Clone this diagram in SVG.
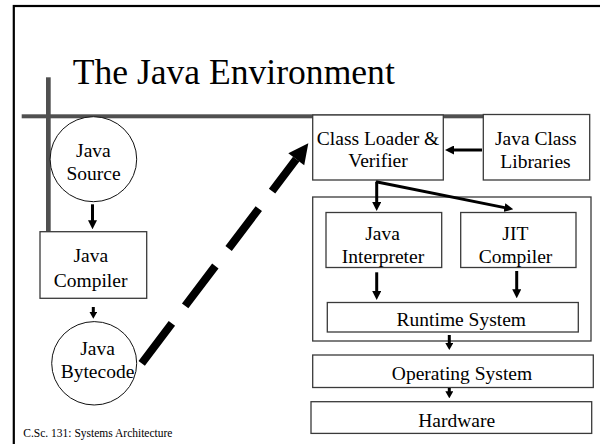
<svg xmlns="http://www.w3.org/2000/svg" width="600" height="444" viewBox="0 0 600 444">
<style>
text{font-family:"Liberation Serif","Times New Roman",serif;fill:#000}
.n{font-size:19.5px;text-anchor:middle}
.box{fill:#fff;stroke:#3a3a3a;stroke-width:1.3}
.circ{fill:#fff;stroke:#111;stroke-width:1}
.bar{fill:#505050}
.ar{stroke:#000;stroke-width:3;fill:none;marker-end:url(#ah)}
.ars{stroke:#000;stroke-width:3;fill:none;marker-end:url(#ahs)}
</style>
<defs>
<marker id="ah" viewBox="0 0 10 10" markerWidth="9" markerHeight="9" markerUnits="userSpaceOnUse" refX="3" refY="5" orient="auto"><path d="M0,0L10,5L0,10z" fill="#000"/></marker>
<marker id="ahs" viewBox="0 0 10 10" markerWidth="7" markerHeight="8" markerUnits="userSpaceOnUse" refX="3" refY="5" orient="auto" preserveAspectRatio="none"><path d="M0,0L10,5L0,10z" fill="#000"/></marker>
</defs>
<rect x="13.8" y="6" width="620" height="460" fill="#fff" stroke="#000" stroke-width="2.2"/>
<text x="72.7" y="84" font-size="35.6">The Java Environment</text>
<rect class="bar" x="21.7" y="114.3" width="461.5" height="4"/>
<rect class="bar" x="46" y="77.3" width="4.7" height="154.4"/>
<g id="java-source"><ellipse class="circ" cx="93.4" cy="159.2" rx="43.3" ry="42.5"/><text class="n" x="93.4" y="156.7">Java</text><text class="n" x="93.6" y="180">Source</text></g>
<g id="java-compiler"><rect class="box" x="40" y="231.7" width="106.7" height="66.6"/><text class="n" x="90.8" y="261.7">Java</text><text class="n" x="90.6" y="286.7">Compiler</text></g>
<g id="java-bytecode"><ellipse class="circ" cx="94.2" cy="363.3" rx="42.5" ry="41.7"/><text class="n" x="97.5" y="355">Java</text><text class="n" x="97.5" y="378">Bytecode</text></g>
<g id="class-loader"><rect class="box" x="312.7" y="115" width="130.6" height="65"/><text class="n" x="378" y="145">Class Loader &amp;</text><text class="n" x="378" y="167">Verifier</text></g>
<g id="class-libraries"><rect class="box" x="483.3" y="114.5" width="106.4" height="65.5"/><text class="n" x="535.8" y="145">Java Class</text><text class="n" x="535.5" y="167.5">Libraries</text></g>
<g id="jvm"><rect class="box" x="312.7" y="197" width="278.3" height="144"/></g>
<g id="java-interpreter"><rect class="box" x="326" y="212.5" width="115.7" height="55"/><text class="n" x="382.5" y="239.5">Java</text><text class="n" x="383" y="262.8">Interpreter</text></g>
<g id="jit-compiler"><rect class="box" x="460.7" y="212.5" width="115.3" height="55"/><text class="n" x="515.3" y="239.5">JIT</text><text class="n" x="515.5" y="262.8">Compiler</text></g>
<g id="runtime-system"><rect class="box" x="327.3" y="302.5" width="251" height="29.5"/><text class="n" x="461.3" y="326">Runtime System</text></g>
<g id="operating-system"><rect class="box" x="312.7" y="355" width="280.6" height="32.5"/><text class="n" x="462" y="380">Operating System</text></g>
<g id="hardware"><rect class="box" x="311" y="401.7" width="280.7" height="31.7"/><text class="n" x="456.7" y="426.7">Hardware</text></g>
<g id="connectors">
<line class="ar" x1="92.5" y1="204.3" x2="92.5" y2="223"/>
<line class="ars" x1="93.3" y1="307" x2="93.3" y2="313.8"/>
<line class="ar" x1="482" y1="150" x2="451.3" y2="150"/>
<line class="ar" x1="376.7" y1="181.7" x2="376.7" y2="204.7"/>
<line class="ar" x1="376" y1="181.7" x2="507.1" y2="208.1"/>
<line class="ar" x1="376.7" y1="272.3" x2="376.7" y2="293.7"/>
<line class="ar" x1="516.7" y1="271" x2="516.7" y2="292"/>
<line class="ars" x1="449.3" y1="335" x2="449.3" y2="345.1"/>
<line class="ars" x1="449.3" y1="388" x2="449.3" y2="393.4"/>
<line x1="141.7" y1="363.3" x2="296.2" y2="159.2" stroke="#000" stroke-width="8" stroke-dasharray="50 22"/>
<polygon points="308.3,143.3 304.2,165.2 288.3,153.2" fill="#000"/>
</g>
<text x="23.3" y="436.7" font-size="11.5">C.Sc. 131: Systems Architecture</text>
</svg>
